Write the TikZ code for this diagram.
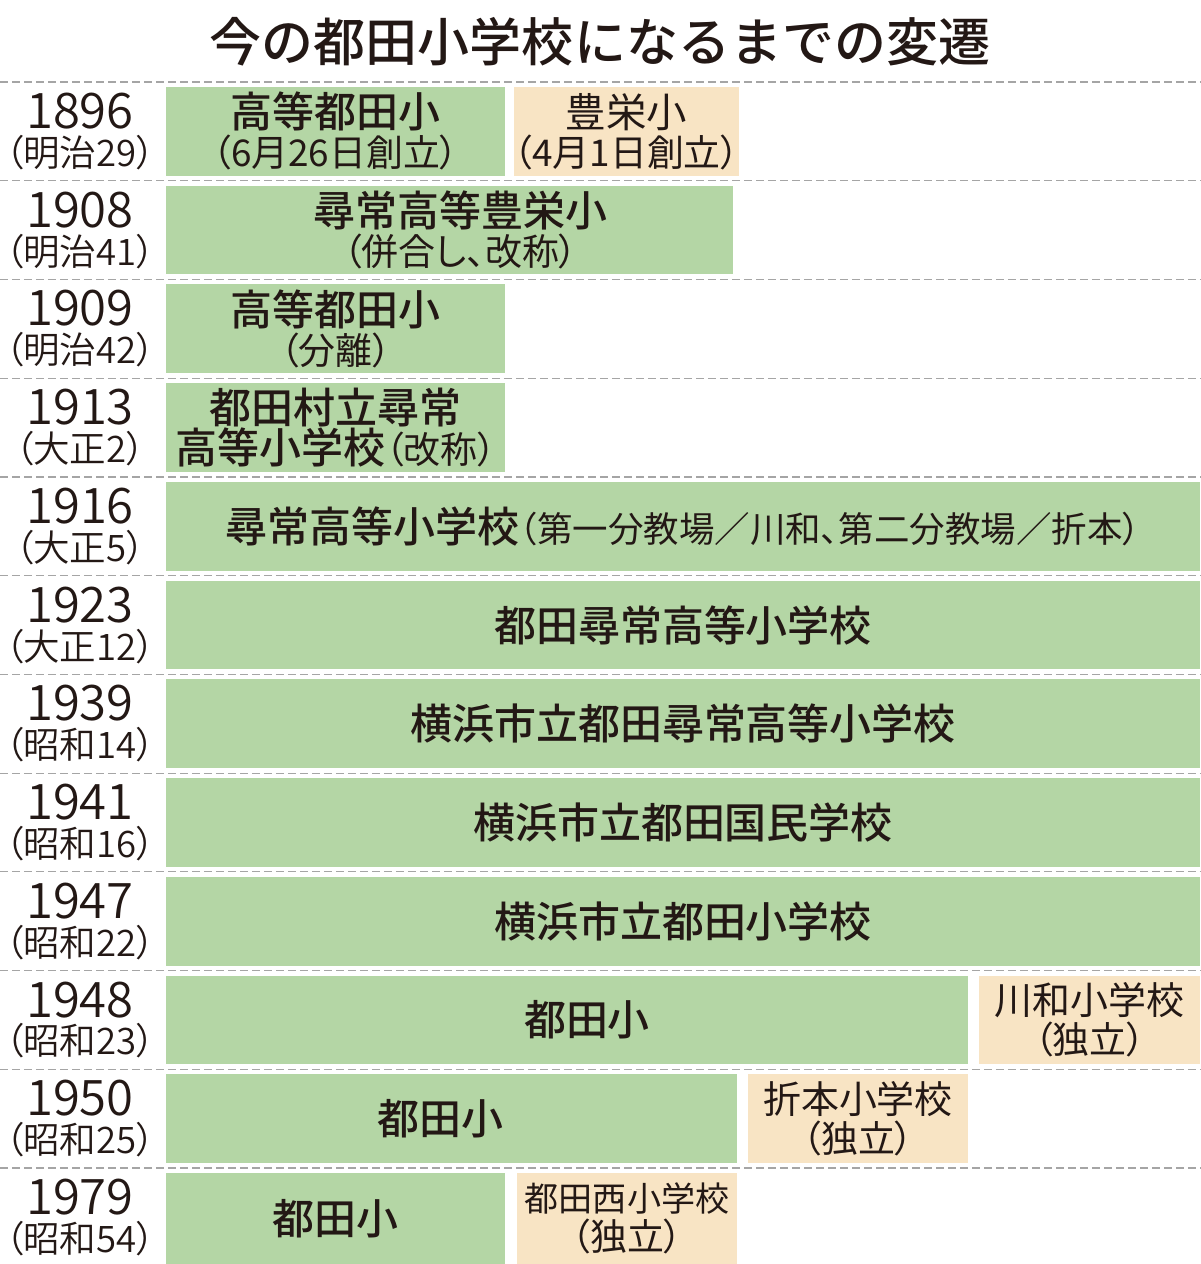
\documentclass[tikz,border=0pt]{standalone}
\usepackage{fontspec}
\setmainfont{Noto Sans CJK JP}
\newfontfamily\medfam{Noto Sans CJK JP Medium}
\newfontfamily\lightfam[RawFeature=+palt]{Noto Sans CJK JP DemiLight}
\newfontfamily\paltfam[RawFeature=+palt]{Noto Sans CJK JP}
\usepackage{xcolor}
\usepackage{tikz}
\definecolor{schoolgreen}{RGB}{180,214,165}
\definecolor{splitbeige}{RGB}{248,228,196}
\definecolor{inkcolor}{RGB}{35,24,21}
\definecolor{rulegray}{RGB}{165,165,165}
\lineskiplimit=-100pt
\newcommand{\namefont}{\fontsize{23.9}{22.2}\selectfont\medfam}
\newcommand{\notefont}{\fontsize{21}{22.2}\selectfont\paltfam}
\newcommand{\yearfont}{\fontsize{27.9}{21.6}\selectfont\lightfam}
\newcommand{\erafont}{\fontsize{20.8}{21.6}\selectfont\lightfam}

\begin{document}
\begin{tikzpicture}[
    x=0.02cm, y=-0.02cm,
    gbox/.style={fill=schoolgreen, inner sep=0pt, minimum height=1.774cm, align=center, text=inkcolor, font=\fontsize{21}{22.2}\selectfont},
    tbox/.style={gbox, fill=splitbeige},
    yearlabel/.style={align=center, inner sep=0pt, text=inkcolor, font=\fontsize{21}{21.6}\selectfont},
    rule/.style={rulegray, line width=0.7pt, dash pattern=on 0.16cm off 0.08cm}
]
    \useasboundingbox (0,0) rectangle (1200,1264);

    % Title
    \node[text=inkcolor, font=\fontsize{29.6}{30}\selectfont\medfam] (title) at (600,42) {今の都田小学校になるまでの変遷};

    % Row separators
    \foreach \i in {0,...,11}
        \draw[rule] (0,{82+98.73*\i}) -- (1200,{82+98.73*\i});

    % 1896
    \node[yearlabel] (y1896) at (80,131.4) {{\yearfont 1896}\\{\erafont （明治29）}};
    \node[gbox, minimum width=6.78cm] (g1896) at (335.5,131.4) {{\namefont 高等都田小}\\{\notefont （6月26日創立）}};
    \node[tbox, minimum width=4.38cm] (t1896) at (626.5,131.4) {{\fontsize{23}{22.2}\selectfont 豊栄小}\\{\notefont （4月1日創立）}};

    % 1908
    \node[yearlabel] (y1908) at (80,230.1) {{\yearfont 1908}\\{\erafont （明治41）}};
    \node[gbox, minimum width=11.34cm] (g1908) at (449.5,230.1) {\hspace*{0.44cm}{\namefont 尋常高等豊栄小}\\\hspace*{0.44cm}{\notefont （併合し、改称）}};

    % 1909
    \node[yearlabel] (y1909) at (80,328.8) {{\yearfont 1909}\\{\erafont （明治42）}};
    \node[gbox, minimum width=6.78cm] (g1909) at (335.5,328.8) {{\namefont 高等都田小}\\{\notefont （分離）}};

    % 1913
    \node[yearlabel] (y1913) at (80,427.6) {{\yearfont 1913}\\{\erafont （大正2）}};
    \node[gbox, minimum width=6.78cm, font=\fontsize{21}{23.2}\selectfont] (g1913) at (335.5,427.6) {{\namefont 都田村立尋常}\\{\namefont 高等小学校}{\notefont （改称）}};

    % 1916
    \node[yearlabel] (y1916) at (80,526.3) {{\yearfont 1916}\\{\erafont （大正5）}};
    \node[gbox, minimum width=20.68cm] (g1916) at (683,526.3) {{\namefont 尋常高等小学校}{\fontsize{20.2}{22}\selectfont\paltfam （第一分教場／川和、第二分教場／折本）}};

    % 1923
    \node[yearlabel] (y1923) at (80,625.1) {{\yearfont 1923}\\{\erafont （大正12）}};
    \node[gbox, minimum width=20.68cm] (g1923) at (683,625.1) {\namefont 都田尋常高等小学校};

    % 1939
    \node[yearlabel] (y1939) at (80,723.8) {{\yearfont 1939}\\{\erafont （昭和14）}};
    \node[gbox, minimum width=20.68cm] (g1939) at (683,723.8) {\namefont 横浜市立都田尋常高等小学校};

    % 1941
    \node[yearlabel] (y1941) at (80,822.5) {{\yearfont 1941}\\{\erafont （昭和16）}};
    \node[gbox, minimum width=20.68cm] (g1941) at (683,822.5) {\namefont 横浜市立都田国民学校};

    % 1947
    \node[yearlabel] (y1947) at (80,921.3) {{\yearfont 1947}\\{\erafont （昭和22）}};
    \node[gbox, minimum width=20.68cm] (g1947) at (683,921.3) {\namefont 横浜市立都田小学校};

    % 1948
    \node[yearlabel] (y1948) at (80,1020) {{\yearfont 1948}\\{\erafont （昭和23）}};
    \node[gbox, minimum width=16.04cm] (g1948) at (567,1020) {\hspace*{0.8cm}{\namefont 都田小}};
    \node[tbox, minimum width=4.42cm] (t1948) at (1089.5,1020) {{\fontsize{21.6}{23.5}\selectfont 川和小学校}\\{\notefont （独立）}};

    % 1950
    \node[yearlabel] (y1950) at (80,1118.7) {{\yearfont 1950}\\{\erafont （昭和25）}};
    \node[gbox, minimum width=11.42cm] (g1950) at (451.5,1118.7) {{\namefont 都田小}\hspace*{0.46cm}};
    \node[tbox, minimum width=4.4cm] (t1950) at (858,1118.7) {{\fontsize{21.6}{23.5}\selectfont 折本小学校}\\{\notefont （独立）}};

    % 1979
    \node[yearlabel] (y1979) at (80,1217.5) {{\yearfont 1979}\\{\erafont （昭和54）}};
    \node[gbox, minimum width=6.78cm, minimum height=1.82cm] (g1979) at (335.5,1218.5) {\namefont 都田小};
    \node[tbox, minimum width=4.4cm, minimum height=1.82cm] (t1979) at (627,1218.5) {{\fontsize{19.4}{23.5}\selectfont 都田西小学校}\\{\notefont （独立）}};
\end{tikzpicture}
\end{document}
